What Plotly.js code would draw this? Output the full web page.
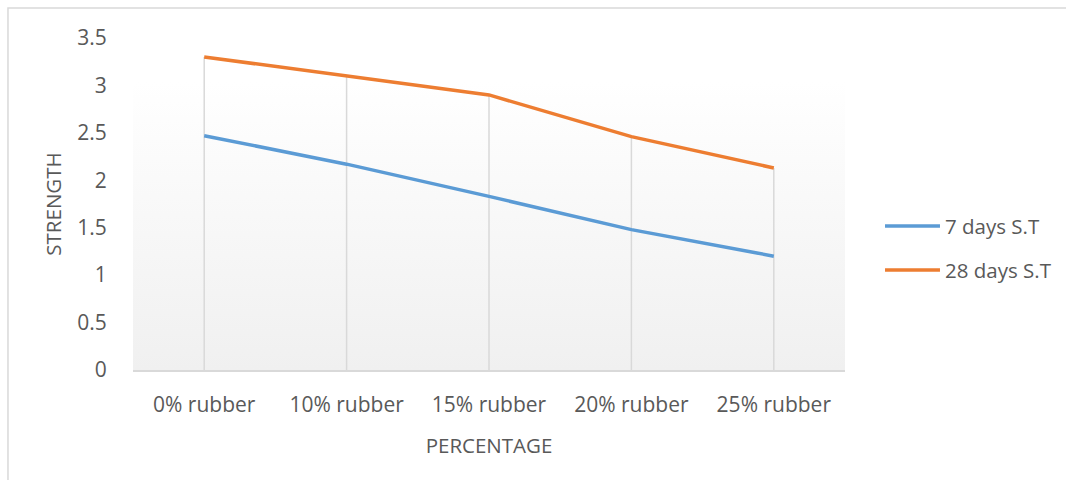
<!DOCTYPE html>
<html>
<head>
<meta charset="utf-8">
<script src="https://cdn.plot.ly/plotly-3.0.1.min.js"></script>
<style>
  html, body { margin: 0; padding: 0; background: #ffffff; }
  #chart { width: 1066px; height: 480px; }
</style>
</head>
<body>
<div id="chart"></div>
<script>
// Rubber replacement levels on the category axis
const categories = ['0% rubber', '10% rubber', '15% rubber', '20% rubber', '25% rubber'];

// Split tensile strength at each curing age
const strength7Days = [2.47, 2.17, 1.83, 1.48, 1.20];
const strength28Days = [3.30, 3.10, 2.90, 2.46, 2.13];

const seriesNames = ['7 days S.T', '28 days S.T'];
const seriesColors = ['#5b9bd5', '#ed7d31'];
const yTickValues = [0, 0.5, 1, 1.5, 2, 2.5, 3, 3.5];
const yTickLabels = ['0', '0.5', '1', '1.5', '2', '2.5', '3', '3.5'];

const textColor = '#595959';
const fontFamily = '"Open Sans", Lato, sans-serif';

// Drop lines: from the highest series at each category down to the axis
const dropX = [];
const dropY = [];
categories.forEach((c, i) => {
  const top = Math.max(strength7Days[i], strength28Days[i]);
  dropX.push(c, c, null);
  dropY.push(0, top, null);
});

// Soft vertical fill behind the plot area
const gradientSvg =
  '<svg xmlns="http://www.w3.org/2000/svg" width="100" height="100" preserveAspectRatio="none">' +
  '<defs><linearGradient id="g" x1="0" y1="0" x2="0" y2="1">' +
  '<stop offset="0" stop-color="#ffffff"/><stop offset="1" stop-color="#f0f0f0"/>' +
  '</linearGradient></defs><rect width="100" height="100" fill="url(#g)"/></svg>';
const gradientUri = 'data:image/svg+xml;base64,' + btoa(gradientSvg);

const traces = [
  {
    x: dropX, y: dropY, type: 'scatter', mode: 'lines',
    line: { color: '#d9d9d9', width: 1.5 },
    showlegend: false, hoverinfo: 'skip', connectgaps: false
  },
  {
    x: categories, y: strength7Days, name: seriesNames[0],
    type: 'scatter', mode: 'lines',
    line: { color: seriesColors[0], width: 3.5 }
  },
  {
    x: categories, y: strength28Days, name: seriesNames[1],
    type: 'scatter', mode: 'lines',
    line: { color: seriesColors[1], width: 3.5 }
  }
];

// Legend drawn as line samples with labels to the right
const legendRows = [0.4337, 0.3012];
const legendShapes = seriesNames.map((n, i) => ({
  type: 'line', xref: 'paper', yref: 'paper',
  x0: 1.0562, x1: 1.1334, y0: legendRows[i], y1: legendRows[i],
  line: { color: seriesColors[i], width: 3.5 }
}));
const legendLabels = seriesNames.map((n, i) => ({
  text: n, xref: 'paper', yref: 'paper',
  x: 1.1376, y: legendRows[i], xanchor: 'left', yanchor: 'middle',
  showarrow: false,
  font: { family: fontFamily, color: textColor, size: 20.5 }
}));

const layout = {
  width: 1066, height: 480,
  margin: { l: 133, r: 221, t: 38, b: 110 },
  paper_bgcolor: '#ffffff',
  plot_bgcolor: 'rgba(0,0,0,0)',
  font: { family: fontFamily, color: textColor, size: 21 },
  showlegend: false,
  xaxis: {
    type: 'category', range: [-0.5, 4.5],
    showgrid: false,
    showline: true, linecolor: '#d9d9d9', linewidth: 1.5,
    ticks: 'outside', ticklen: 15, tickcolor: 'rgba(0,0,0,0)',
    tickfont: { family: fontFamily, color: textColor, size: 21 },
    zeroline: false, fixedrange: true,
    title: { text: 'PERCENTAGE', font: { family: fontFamily, color: textColor, size: 20.5 }, standoff: 22 }
  },
  yaxis: {
    range: [0, 3.5],
    tickvals: yTickValues, ticktext: yTickLabels,
    showgrid: false, showline: false, zeroline: false,
    ticks: 'outside', ticklen: 21, tickcolor: 'rgba(0,0,0,0)',
    tickfont: { family: fontFamily, color: textColor, size: 21 },
    fixedrange: true,
    title: { text: 'STRENGTH', font: { family: fontFamily, color: textColor, size: 20.5 }, standoff: 10 }
  },
  images: [{
    source: gradientUri,
    xref: 'paper', yref: 'paper',
    x: 0, y: 0.8705, sizex: 1, sizey: 0.8705,
    xanchor: 'left', yanchor: 'top',
    sizing: 'stretch', layer: 'below'
  }],
  shapes: [{
    // outer chart frame
    type: 'rect', xref: 'paper', yref: 'paper',
    x0: -0.1756, x1: 1.32, y0: -0.4, y1: 1.0904,
    line: { color: '#d9d9d9', width: 1.5 },
    fillcolor: 'rgba(0,0,0,0)', layer: 'below'
  }].concat(legendShapes),
  annotations: legendLabels
};

Plotly.newPlot('chart', traces, layout, { displayModeBar: false, staticPlot: true });
</script>
</body>
</html>
